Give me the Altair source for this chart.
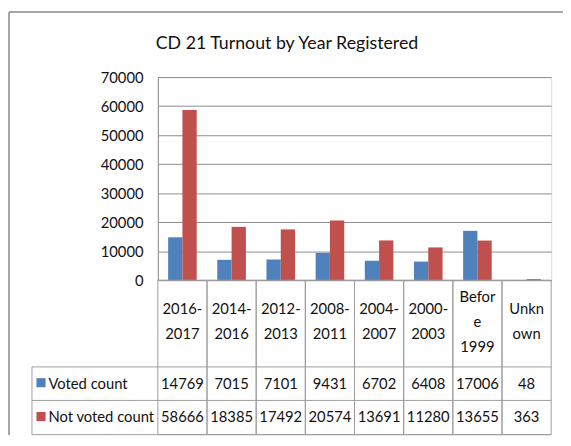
import altair as alt
import pandas as pd

categories = ["2016-2017", "2014-2016", "2012-2013", "2008-2011",
              "2004-2007", "2000-2003", "Before 1999", "Unknown"]
header_labels = ["2016-\n2017", "2014-\n2016", "2012-\n2013", "2008-\n2011",
                 "2004-\n2007", "2000-\n2003", "Befor\ne\n1999", "Unkn\nown"]
series = ["Voted count", "Not voted count"]
voted = [14769, 7015, 7101, 9431, 6702, 6408, 17006, 48]
not_voted = [58666, 18385, 17492, 20574, 13691, 11280, 13655, 363]
colors = ["#4F81BD", "#C0504D"]
y_ticks = [0, 10000, 20000, 30000, 40000, 50000, 60000, 70000]
title_text = "CD 21 Turnout by Year Registered"

FONT = "Lato"
FS = 15
GRID = "#8c8c8c"
LINE = "#9c9c9c"
TXT = "#111111"

rows = []
for s, vals in zip(series, [voted, not_voted]):
    for c, v in zip(categories, vals):
        rows.append({"category": c, "series": s, "value": v})
df = pd.DataFrame(rows)
head_df = pd.DataFrame({"category": categories, "header": header_labels,
                        "n": [h.count("\n") + 1 for h in header_labels]})
one = pd.DataFrame({"k": [0]})

W, H = 399, 206
LH = 25.5
HEAD_BOT, ROW1_BOT, ROW2_BOT = 294, 328, 362.7
HEAD_MID = 248.3
row_y = {"Voted count": (HEAD_BOT + ROW1_BOT) / 2,
         "Not voted count": (ROW1_BOT + ROW2_BOT) / 2}

xcat = alt.X("category:N", sort=categories,
             scale=alt.Scale(paddingInner=0, paddingOuter=0), axis=None)
color_enc = alt.Color("series:N", scale=alt.Scale(domain=series, range=colors),
                      legend=None)

bars = alt.Chart(df).mark_bar().encode(
    x=xcat,
    xOffset=alt.XOffset("series:N", sort=series,
                        scale=alt.Scale(paddingInner=0, paddingOuter=0.72)),
    y=alt.Y("value:Q", scale=alt.Scale(domain=[0, 70000], nice=False),
            axis=alt.Axis(values=y_ticks, grid=True, gridColor=GRID, gridWidth=1,
                          domainColor=GRID, ticks=False, labelPadding=15,
                          labelFont=FONT, labelFontSize=15, labelColor=TXT,
                          title=None, format="d")),
    color=color_enc,
)

cells = alt.Chart(head_df).mark_rect(fillOpacity=0, stroke=LINE, strokeWidth=1).encode(
    x=xcat, y=alt.value(H), y2=alt.value(ROW2_BOT)
)

layers = [bars, cells]

for n in [2, 3]:
    layers.append(
        alt.Chart(head_df).transform_filter(alt.datum.n == n).mark_text(
            font=FONT, fontSize=FS, lineBreak="\n", lineHeight=LH,
            baseline="middle", align="center", color=TXT
        ).encode(x=xcat, y=alt.value(HEAD_MID - (n - 1) * LH / 2), text="header:N")
    )

for s in series:
    layers.append(
        alt.Chart(df).transform_filter(alt.datum.series == s).mark_text(
            font=FONT, fontSize=FS, baseline="middle", align="center", color=TXT
        ).encode(x=xcat, y=alt.value(row_y[s]), text=alt.Text("value:Q", format="d"))
    )
    sdf = pd.DataFrame({"series": [s]})
    layers.append(
        alt.Chart(sdf).mark_square(size=85, opacity=1).encode(
            x=alt.value(-118.5), y=alt.value(row_y[s] - 1), color=color_enc
        )
    )
    layers.append(
        alt.Chart(sdf).mark_text(font=FONT, fontSize=FS, baseline="middle",
                                 align="left", color=TXT).encode(
            x=alt.value(-111), y=alt.value(row_y[s]), text="series:N"
        )
    )

# table row separators
for yy in [HEAD_BOT, ROW1_BOT, ROW2_BOT]:
    layers.append(alt.Chart(one).mark_rule(color=LINE, strokeWidth=1).encode(
        x=alt.value(-127.7), x2=alt.value(W), y=alt.value(yy)))
layers.append(alt.Chart(one).mark_rule(color=LINE, strokeWidth=1).encode(
    x=alt.value(-127.7), y=alt.value(HEAD_BOT), y2=alt.value(ROW2_BOT)))

# outer chart frame (top and left)
layers.append(alt.Chart(one).mark_rule(color="#a6a6a6", strokeWidth=2).encode(
    x=alt.value(-151), x2=alt.value(W + 12), y=alt.value(-66)))
layers.append(alt.Chart(one).mark_rule(color="#a6a6a6", strokeWidth=2).encode(
    x=alt.value(-151), y=alt.value(-66), y2=alt.value(363)))

# title
layers.append(alt.Chart(pd.DataFrame({"t": [title_text]})).mark_text(
    font=FONT, fontSize=18, align="center", baseline="alphabetic", color=TXT
).encode(x=alt.value(131), y=alt.value(-28), text="t:N"))

chart = alt.layer(*layers).properties(
    width=W, height=H,
    autosize=alt.AutoSizeParams(type="none"),
    padding={"left": 152, "top": 67, "right": 12, "bottom": 156},
).configure_view(stroke=None).configure(background="white")

chart.save("out.html", embed_options={"renderer": "svg", "actions": False})
